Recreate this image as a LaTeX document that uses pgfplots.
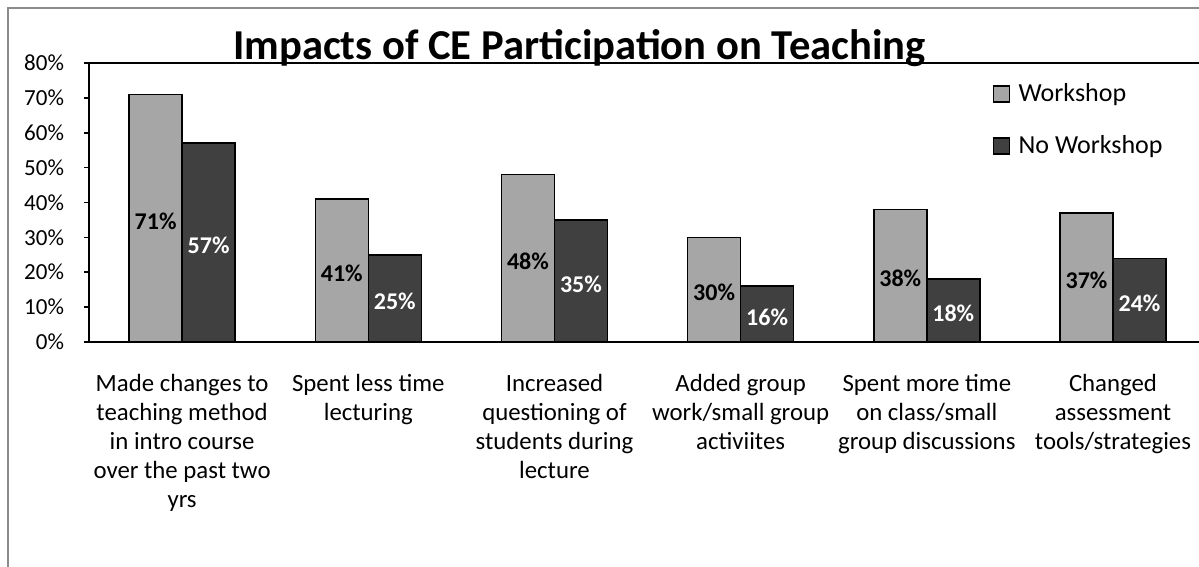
\documentclass[border=0pt]{standalone}
\usepackage{pgfplots}
\pgfplotsset{compat=1.18}
\usepackage{fontspec}
\setmainfont{Carlito}
\definecolor{wsgray}{HTML}{A6A6A6}
\definecolor{nwsgray}{HTML}{404040}
\definecolor{framegray}{HTML}{8C8C8C}
\begin{document}
\begin{tikzpicture}
\begin{axis}[
    scale only axis, width=555pt, height=139.5pt,
    clip=false,
    ybar=0pt, bar width=26.5pt,
    enlargelimits=false,
    ymin=0, ymax=80, ytick={0,10,...,80},
    yticklabel={\pgfmathprintnumber{\tick}\%},
    xmin=-0.5, xmax=5.462,
    xtick={0,...,5},
    xticklabels={
      {Made changes to\\teaching method\\in intro course\\over the past two\\yrs},
      {Spent less time\\lecturing},
      {Increased\\questioning of\\students during\\lecture},
      {Added group\\work/small group\\activiites},
      {Spent more time\\on class/small\\group discussions},
      {Changed\\assessment\\tools/strategies}},
    axis x line=box, axis y line=left,
    axis line style={-, line width=0.9pt, black},
    tick align=outside, major tick length=2.5pt,
    ytick style={line width=0.8pt, black},
    xtick style={draw=none},
    /pgf/number format/assume math mode=true,
    yticklabel style={font=\fontsize{11.5}{13}\selectfont, xshift=-6.5pt},
    xticklabel style={font=\fontsize{12.4}{14.5}\selectfont, align=center, yshift=-10pt},
    legend style={at={(0.8143,0.939)}, anchor=north west, draw=none, fill=none,
      font=\fontsize{13}{15}\selectfont, row sep=12.5pt, inner sep=0pt,
      nodes={inner sep=1.5pt}, cells={anchor=west}},
    nodes near coords={\pgfmathprintnumber{\pgfplotspointmeta}\%},
    visualization depends on=rawy \as \rawy,
    every node near coord/.append style={anchor=center,
      font=\bfseries\fontsize{12}{14}\selectfont,
      yshift={-0.871875pt*\rawy-1.5pt}},
  ]
  \addplot[fill=wsgray, draw=black, line width=0.75pt,
    legend image code/.code={\draw[fill=wsgray, draw=black, line width=0.6pt] (0pt,-4pt) rectangle (8pt,4pt); \path (10.5pt,0pt);},
    every node near coord/.append style={text=black}]
    coordinates {(0,71) (1,41) (2,48) (3,30) (4,38) (5,37)};
  \addlegendentry{Workshop}
  \addplot[fill=nwsgray, draw=black, line width=0.75pt,
    legend image code/.code={\draw[fill=nwsgray, draw=black, line width=0.6pt] (0pt,-4pt) rectangle (8pt,4pt); \path (10.5pt,0pt);},
    every node near coord/.append style={text=white}]
    coordinates {(0,57) (1,25) (2,35) (3,16) (4,18) (5,24)};
  \addlegendentry{No Workshop}
  % chart frame, title and page corners, relative to the plot box
  \draw[framegray, line width=0.8pt] (rel axis cs:-0.073,-0.85) -- (rel axis cs:-0.073,1.197) -- (rel axis cs:1.03,1.197);
  \node[anchor=base, font=\bfseries\fontsize{21.3}{25}\selectfont] at (rel axis cs:0.4419,1.0143) {Impacts of CE Participation on Teaching};
  \coordinate (bbSW) at (rel axis cs:-0.08018,-0.80645);
  \coordinate (bbNE) at (rel axis cs:1.0,1.2258);
\end{axis}
\pgfresetboundingbox
\useasboundingbox (bbSW) rectangle (bbNE);
\end{tikzpicture}
\end{document}
